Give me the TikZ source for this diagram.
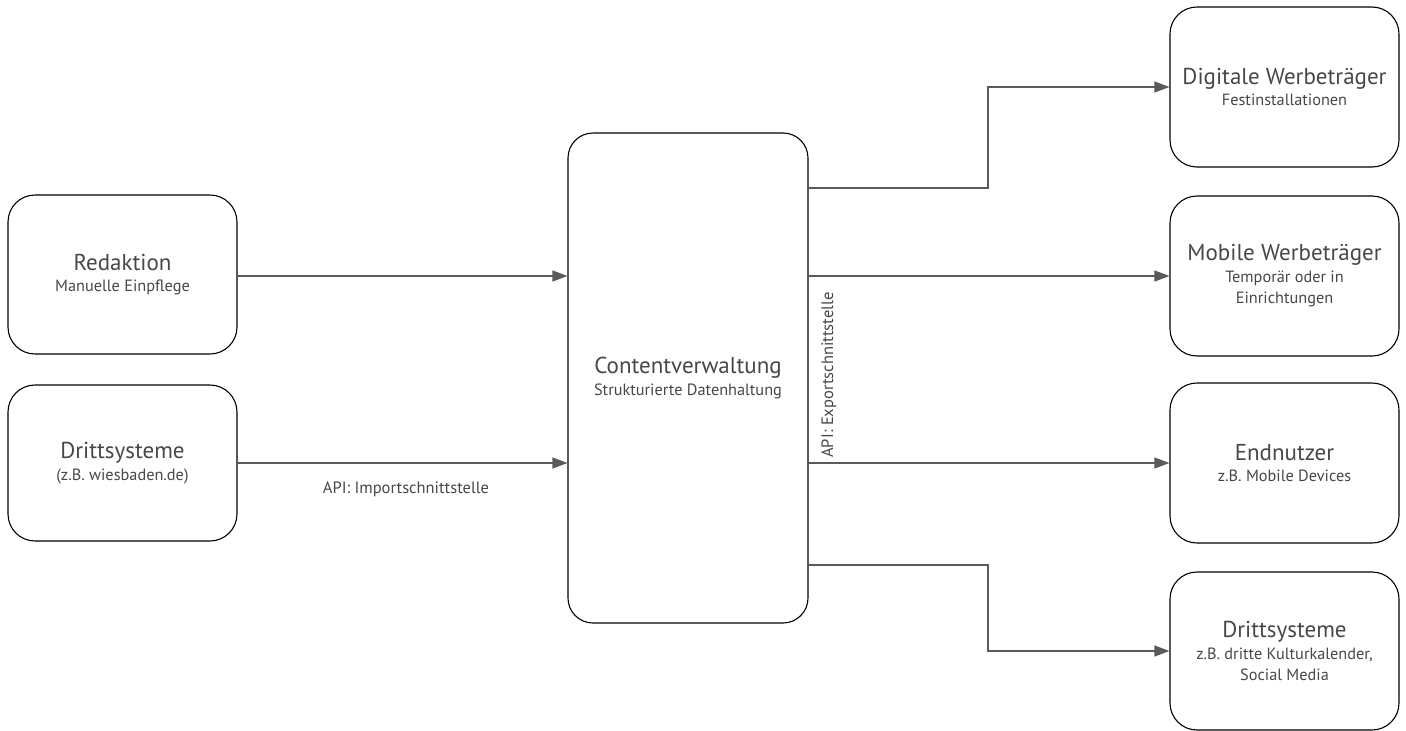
\documentclass[tikz,border=0pt]{standalone}
\usepackage{fontspec}
\setmainfont{PT Sans}
\usetikzlibrary{arrows.meta,calc}
\definecolor{txt}{HTML}{474747}
\definecolor{ln}{HTML}{5A5A5A}
\newcommand{\ttlfont}{\fontsize{23}{26}\selectfont}
\begin{document}
\begin{tikzpicture}[x=1pt,y=1pt,
  box/.style={draw=black,line width=1.1pt,rounded corners=27pt,minimum width=229pt,inner sep=0pt,
    text=txt,align=center,font=\fontsize{16.3}{21.5}\selectfont},
  conn/.style={draw=ln,line width=1.1pt,-{Triangle[length=15pt,width=11pt]}},
  lbl/.style={text=txt,font=\fontsize{16.5}{19}\selectfont,inner sep=0pt}]
\useasboundingbox (0,0) rectangle (1406,-731);
% left boxes
\node[box,minimum height=159pt] (red) at (122.5,-274.5) {{\ttlfont Redaktion}\\Manuelle Einpflege};
\node[box,minimum height=156pt] (dsl) at (122.5,-463) {{\ttlfont Drittsysteme}\\(z.B. wiesbaden.de)};
% central
\node[box,minimum width=240pt,minimum height=490pt,rounded corners=25pt] (cv) at (688,-378) {{\ttlfont Contentverwaltung}\\Strukturierte Datenhaltung};
% right boxes
\node[box,minimum height=160pt] (dig) at (1284.5,-87) {{\ttlfont Digitale Werbeträger}\\Festinstallationen};
\node[box,minimum height=160pt] (mob) at (1284.5,-276) {{\ttlfont Mobile Werbeträger}\\Temporär oder in\\Einrichtungen};
\node[box,minimum height=160pt] (end) at (1284.5,-463) {{\ttlfont Endnutzer}\\z.B. Mobile Devices};
\node[box,minimum height=158pt] (dsr) at (1284.5,-651) {{\ttlfont Drittsysteme}\\z.B. dritte Kulturkalender,\\Social Media};
% connectors left
\draw[conn] ([yshift=-1.5pt]red.east) -- ([yshift=-1.5pt]red.east -| cv.west);
\draw[conn] (dsl.east) -- (dsl.east -| cv.west);
% connectors right
\coordinate (bendA) at (988,-188);
\coordinate (bendB) at (988,-565);
\draw[conn] (cv.east |- bendA) -- (bendA) |- (dig.west);
\draw[conn] (cv.east |- mob.west) -- (mob.west);
\draw[conn] (cv.east |- end.west) -- (end.west);
\draw[conn] (cv.east |- bendB) -- (bendB) |- (dsr.west);
% labels
\node[lbl] (imp) at (406,-489) {API: Importschnittstelle};
\node[lbl,rotate=90] (exp) at (829,-375) {API: Exportschnittstelle};
\end{tikzpicture}
\end{document}
